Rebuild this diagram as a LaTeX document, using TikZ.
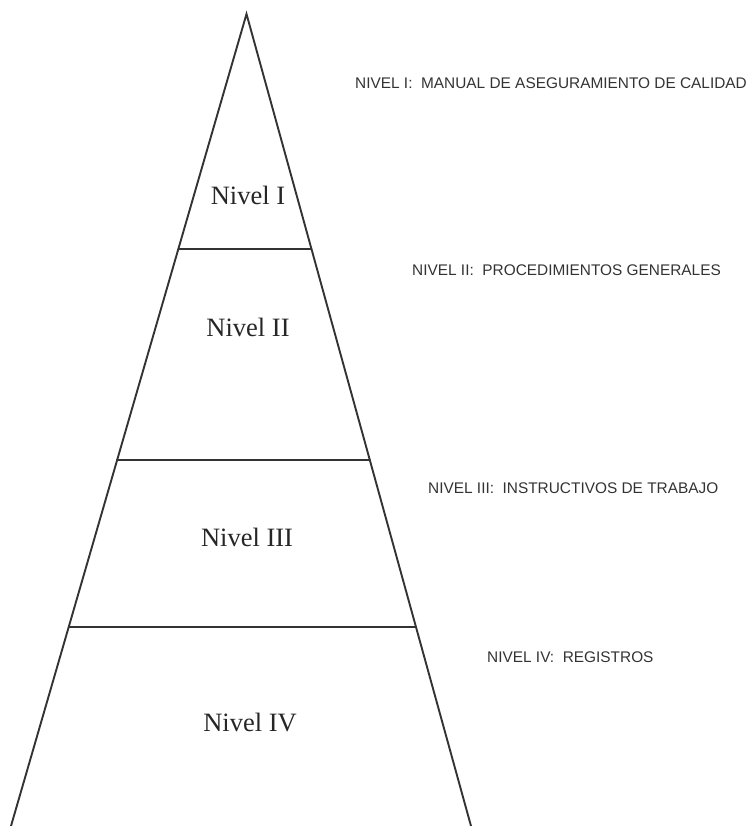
\documentclass[tikz,border=0pt]{standalone}
\usepackage{fontspec}
\setmainfont{Liberation Serif}
\setsansfont{Liberation Sans}
\usetikzlibrary{calc}
\begin{document}
\begin{tikzpicture}[x=1pt, y=-1pt,
    side/.style={draw, line width=1.9pt, black!80, line cap=round},
    tier/.style={font=\fontsize{26.5}{30}\selectfont, inner sep=0pt, text=black!85},
    note/.style={font=\sffamily\fontsize{15.4}{18}\selectfont, anchor=west, inner sep=0pt, text=black!80}]
    \useasboundingbox (0,0) rectangle (753,826);
    \coordinate (apex) at (246.5,14);
    \coordinate (base_left) at (11,826);
    \coordinate (base_right) at (471,826);
    \path [side] (base_left) -- (apex) -- (base_right);

    \coordinate (cut1_left) at ($(apex)!0.2894!(base_left)$);
    \coordinate (cut1_right) at ($(apex)!0.2894!(base_right)$);
    \coordinate (cut2_left) at ($(apex)!0.5493!(base_left)$);
    \coordinate (cut2_right) at ($(apex)!0.5493!(base_right)$);
    \coordinate (cut3_left) at ($(apex)!0.7549!(base_left)$);
    \coordinate (cut3_right) at ($(apex)!0.7549!(base_right)$);
    \path [side] (cut1_left) -- (cut1_right);
    \path [side] (cut2_left) -- (cut2_right);
    \path [side] (cut3_left) -- (cut3_right);

    \node [tier] (tier1) at (248,195) {Nivel I};
    \node [tier] (tier2) at (248,327) {Nivel II};
    \node [tier] (tier3) at (247,537) {Nivel III};
    \node [tier] (tier4) at (250,722) {Nivel IV};

    \node [note] (note1) at (355,83) {NIVEL I:\ \ MANUAL DE ASEGURAMIENTO DE CALIDAD};
    \node [note] (note2) at (412,270) {NIVEL II:\ \ PROCEDIMIENTOS GENERALES};
    \node [note] (note3) at (428,488) {NIVEL III:\ \ INSTRUCTIVOS DE TRABAJO};
    \node [note] (note4) at (487,657) {NIVEL IV:\ \ REGISTROS};
\end{tikzpicture}
\end{document}
